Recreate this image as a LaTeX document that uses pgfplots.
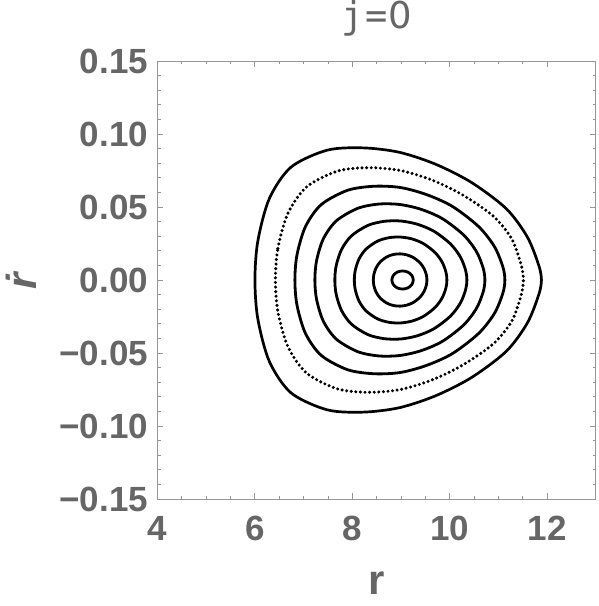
\documentclass[border=0pt]{standalone}
\usepackage{fontspec}
\setmainfont{Liberation Sans}
\newfontfamily\titlefont{DejaVu Sans Mono}
\newfontfamily\zerofont{DejaVu Sans}
\usepackage{pgfplots}
\pgfplotsset{compat=1.18}
\definecolor{labgray}{RGB}{102,102,102}
\definecolor{framegray}{RGB}{150,150,150}

\begin{document}
\begin{tikzpicture}
\begin{axis}[
  scale only axis, width=219.25pt, height=219pt,
  xmin=4, xmax=13, ymin=-0.15, ymax=0.15,
  xtick={4,6,8,10,12}, xticklabels={4,6,8,10,12},
  ytick={-0.15,-0.10,-0.05,0,0.05,0.10,0.15},
  yticklabels={−0.15,−0.10,−0.05,0.00,0.05,0.10,0.15},
  minor x tick num=3, minor y tick num=4,
  tick align=inside,
  major tick length=2.8pt, minor tick length=1.7pt,
  axis line style={framegray, line width=0.5pt},
  tick style={framegray, line width=0.5pt},
  ticklabel style={font=\fontsize{17.5}{20}\selectfont\bfseries, text=labgray},
  xticklabel style={anchor=base, inner sep=0pt, yshift=-20.5pt},
  yticklabel style={anchor=east, inner sep=0pt, xshift=-4.5pt},
  xlabel={r}, ylabel={\textit{\.{r}}},
  label style={font=\fontsize{21}{24}\selectfont\bfseries, text=labgray},
  xlabel style={at={(axis description cs:0.5,-0.219)}, anchor=base, inner sep=0pt},
  ylabel style={at={(axis description cs:-0.311,0.5)}, anchor=center, inner sep=0pt},
  title={\makebox[12pt]{j}\makebox[12pt]{=}\makebox[12pt]{\zerofont 0}},
  every axis title shift=0pt,
  title style={at={(axis description cs:0.5,1.0753)}, anchor=base, inner sep=0pt,
    font=\titlefont\fontsize{18.5}{20}\selectfont, text=labgray},
]
% outer orbit
\addplot[black, line width=1.35pt, smooth cycle] coordinates {
  (6.00,0) (6.059,0.0266) (6.296,0.0558) (6.74,0.0773) (7.48,0.0889) (8.22,0.0905)
  (8.96,0.0875) (9.70,0.0794) (10.44,0.0669) (11.16,0.0488) (11.59,0.0295) (11.822,0.0104)
  (11.88,0)
  (11.822,-0.0104) (11.59,-0.0295) (11.16,-0.0488) (10.44,-0.0669) (9.70,-0.0794)
  (8.96,-0.0875) (8.22,-0.0905) (7.48,-0.0889) (6.74,-0.0773) (6.296,-0.0558) (6.059,-0.0266)
};
% dotted orbit
\addplot[black, line width=1.7pt, line cap=round, dash pattern=on 0pt off 2.3pt, smooth cycle] coordinates {
  (6.42,0) (6.471,0.0216) (6.675,0.0455) (7.058,0.0637) (7.695,0.0746) (8.333,0.0769)
  (8.97,0.0751) (9.608,0.0688) (10.245,0.0586) (10.883,0.0440) (11.265,0.0285) (11.459,0.011)
  (11.51,0)
  (11.459,-0.011) (11.265,-0.0285) (10.883,-0.0440) (10.245,-0.0586) (9.608,-0.0688)
  (8.97,-0.0751) (8.333,-0.0769) (7.695,-0.0746) (7.058,-0.0637) (6.675,-0.0455) (6.471,-0.0216)
};
\addplot[black, line width=1.4pt, smooth cycle] coordinates {
  (6.82,0) (6.863,0.0172) (7.036,0.0365) (7.359,0.0516) (7.898,0.0614) (8.436,0.0642)
  (8.975,0.0634) (9.514,0.0586) (10.053,0.0504) (10.591,0.0366) (10.915,0.0229) (11.087,0.0092)
  (11.13,0)
  (11.087,-0.0092) (10.915,-0.0229) (10.591,-0.0366) (10.053,-0.0504) (9.514,-0.0586)
  (8.975,-0.0634) (8.436,-0.0642) (7.898,-0.0614) (7.359,-0.0516) (7.036,-0.0365) (6.863,-0.0172)
};
\addplot[black, line width=1.4pt, smooth cycle] coordinates {
  (7.23,0) (7.265,0.0133) (7.404,0.0282) (7.666,0.0404) (8.103,0.0490) (8.539,0.0520)
  (8.975,0.0517) (9.411,0.0484) (9.848,0.0420) (10.284,0.0308) (10.546,0.0195) (10.685,0.0081)
  (10.72,0)
  (10.685,-0.0081) (10.546,-0.0195) (10.284,-0.0308) (9.848,-0.0420) (9.411,-0.0484)
  (8.975,-0.0517) (8.539,-0.0520) (8.103,-0.0490) (7.666,-0.0404) (7.404,-0.0282) (7.265,-0.0133)
};
\addplot[black, line width=1.4pt, smooth cycle] coordinates {
  (7.64,0) (7.667,0.0097) (7.776,0.0208) (7.979,0.0302) (8.318,0.0374) (8.656,0.0402)
  (8.995,0.0404) (9.334,0.0382) (9.673,0.0334) (10.011,0.0248) (10.215,0.0159) (10.323,0.0068)
  (10.35,0)
  (10.323,-0.0068) (10.215,-0.0159) (10.011,-0.0248) (9.673,-0.0334) (9.334,-0.0382)
  (8.995,-0.0404) (8.656,-0.0402) (8.318,-0.0374) (7.979,-0.0302) (7.776,-0.0208) (7.667,-0.0097)
};
\addplot[black, line width=1.4pt, smooth cycle] coordinates {
  (8.04,0) (8.059,0.0066) (8.135,0.0143) (8.278,0.0211) (8.515,0.0266) (8.753,0.0290)
  (8.99,0.0294) (9.228,0.0281) (9.465,0.0248) (9.703,0.0186) (9.845,0.0121) (9.921,0.0053)
  (9.94,0)
  (9.921,-0.0053) (9.845,-0.0121) (9.703,-0.0186) (9.465,-0.0248) (9.228,-0.0281)
  (8.99,-0.0294) (8.753,-0.0290) (8.515,-0.0266) (8.278,-0.0211) (8.135,-0.0143) (8.059,-0.0066)
};
\addplot[black, line width=1.4pt, smooth cycle] coordinates {
  (8.43,0) (8.441,0.0038) (8.485,0.0082) (8.568,0.0123) (8.705,0.0158) (8.843,0.0175)
  (8.98,0.0179) (9.118,0.0172) (9.255,0.0153) (9.393,0.0116) (9.475,0.0076) (9.519,0.0034)
  (9.53,0)
  (9.519,-0.0034) (9.475,-0.0076) (9.393,-0.0116) (9.255,-0.0153) (9.118,-0.0172)
  (8.98,-0.0179) (8.843,-0.0175) (8.705,-0.0158) (8.568,-0.0123) (8.485,-0.0082) (8.441,-0.0038)
};
% innermost orbit
\addplot[black, line width=1.4pt, smooth cycle] coordinates {
  (9.25,0) (9.2205,0.0031) (9.14,0.0054) (9.03,0.0062) (8.92,0.0054) (8.8395,0.0031)
  (8.81,0) (8.8395,-0.0031) (8.92,-0.0054) (9.03,-0.0062) (9.14,-0.0054) (9.2205,-0.0031)
};
\end{axis}
\pgfresetboundingbox
\path ([shift={(-78.75pt,-53.5pt)}]current axis.south west) rectangle ([shift={(1.5pt,30.5pt)}]current axis.north east);
\end{tikzpicture}
\end{document}
